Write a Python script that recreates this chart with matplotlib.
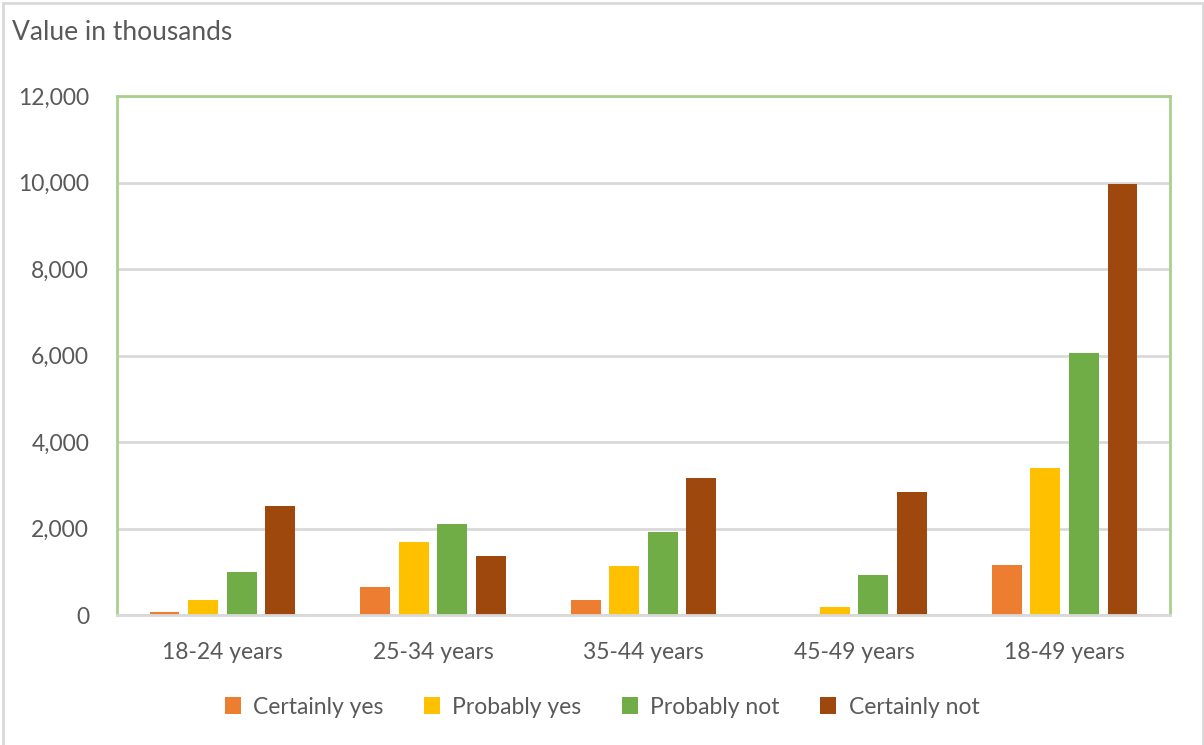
import numpy as np
import matplotlib.pyplot as plt
from matplotlib.patches import Rectangle
from matplotlib.ticker import FuncFormatter

# DATA

categories = ['18-24 years', '25-34 years', '35-44 years', '45-49 years', '18-49 years']
series_names = ['Certainly yes', 'Probably yes', 'Probably not', 'Certainly not']

certainly_yes = [85, 645, 345, 0, 1165]
probably_yes = [345, 1690, 1135, 185, 3405]
probably_not = [1005, 2115, 1920, 940, 6060]
certainly_not = [2515, 1360, 3175, 2845, 9970]

colors = ['#ED7D31', '#FFC000', '#70AD47', '#9E480E']

plt.rcParams['font.family'] = ['Lato', 'DejaVu Sans']

# FIGURE

fig = plt.figure(figsize=(12.04, 7.45), dpi=100)
ax = fig.add_axes([117 / 1204, 1 - 615.3 / 745, (1170 - 117) / 1204, (615.3 - 96) / 745])

x = np.arange(len(categories))
pitch = 0.183
width = 0.142

all_series = [certainly_yes, probably_yes, probably_not, certainly_not]
for i, vals in enumerate(all_series):
    offset = (i - 1.5) * pitch
    ax.bar(x + offset, vals, width=width, color=colors[i], label=series_names[i], zorder=3)

# AXES STYLE

ax.set_xlim(-0.5, len(categories) - 0.5)
ax.set_ylim(0, 12000)
ax.set_yticks(np.arange(0, 12001, 2000))
ax.yaxis.set_major_formatter(FuncFormatter(lambda v, p: f'{int(v):,}'))
ax.set_xticks(x)
ax.set_xticklabels(categories)

ax.grid(axis='y', color='#D9D9D9', linewidth=2, zorder=0)
ax.tick_params(axis='both', length=0, labelsize=16.5, labelcolor='#595959')
ax.tick_params(axis='y', pad=20)
ax.tick_params(axis='x', pad=19)

for side in ['top', 'left', 'right']:
    ax.spines[side].set_color('#A9D18E')
    ax.spines[side].set_linewidth(2)
ax.spines['bottom'].set_color('#D9D9D9')
ax.spines['bottom'].set_linewidth(2)
ax.spines['bottom'].set_zorder(4)

# TITLE

fig.text(12 / 1204, 1 - 33 / 745, 'Value in thousands', fontsize=19, color='#595959', va='center', ha='left')

# LEGEND

fig.legend(loc='center', bbox_to_anchor=(0.5, 1 - 707 / 745), ncol=4, frameon=False,
           fontsize=16.5, labelcolor='#595959', handlelength=0.7, handleheight=0.7,
           handletextpad=0.55, columnspacing=1.75)

# OUTER FRAME

fig.patches.append(Rectangle((3 / 1204, -0.05), 1199.5 / 1204, 1.05 - 3 / 745,
                             transform=fig.transFigure, fill=False,
                             edgecolor='#D9D9D9', linewidth=2))

fig.savefig('out.png', dpi=100)
